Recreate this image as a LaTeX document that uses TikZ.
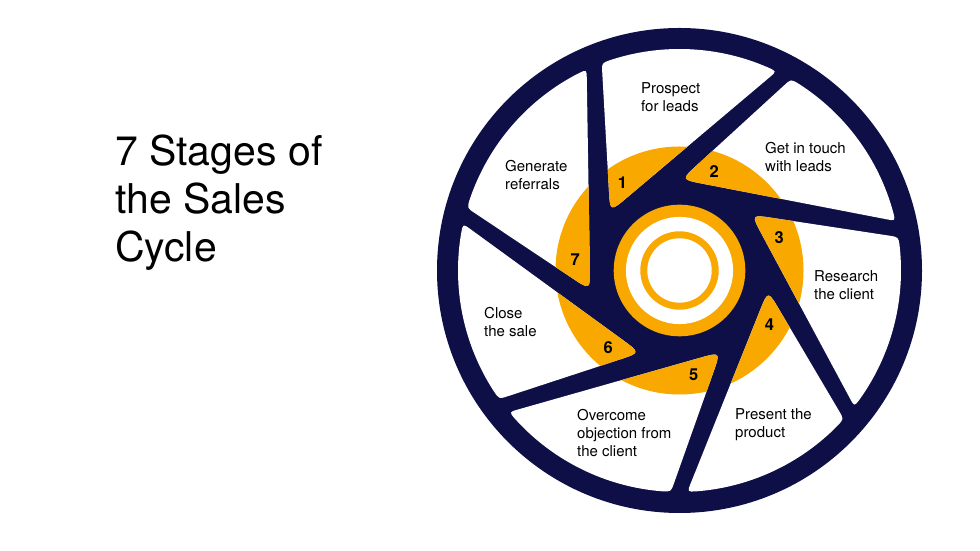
\documentclass[tikz,border=0pt]{standalone}
\usepackage{fontspec}
\setmainfont{TeX Gyre Heros}
\usetikzlibrary{calc}
\definecolor{navy}{RGB}{13,15,70}
\definecolor{amber}{RGB}{249,168,0}

\tikzset{
  stage/.style={anchor=north west,align=left,inner sep=0pt,font=\fontsize{15}{18}\selectfont},
  num/.style={inner sep=0pt,font=\fontsize{16.5}{16.5}\selectfont\bfseries},
  gap/.style={fill=white,path picture={\fill[amber] (hub) circle[radius=124pt];}}
}

\begin{document}
\begin{tikzpicture}
  [x=1pt,y=1pt]
  \useasboundingbox (0,0) rectangle (980,551);

  \node (title) [anchor=north west,align=left,inner sep=0pt,font=\fontsize{41}{48}\selectfont]
    at (115,416.4) {7 Stages of\\the Sales\\Cycle};

  \begin{scope}[shift={(679.5,280.5)}]
  \coordinate (hub) at (0,0);
  \fill[navy] (hub) circle (242.5);

  % one gap between two blades: white outside, amber inside
  \foreach \i/\ra/\rb in {1/0/-50.775,2/-50.775/-101.875,3/-101.875/-152.675,4/-152.675/-202.775,
                          5/-202.775/-255.075,6/-255.075/-306.975,7/-306.975/-360} {
    \coordinate (r1) at (110.56+\ra:221.5);
    \coordinate (r2) at (133.69+\ra:101.64);
    \coordinate (l1) at (114.79+\rb:221.5);
    \coordinate (l2) at (184.15+\rb:89.74);
    \coordinate (t\i) at (intersection of r1--r2 and l1--l2);
    \coordinate (a\i) at ($(t\i)!22pt!(r1)$);
    \coordinate (b\i) at ($(t\i)!22pt!(l1)$);
    \coordinate (p) at ($(r1)!9pt!(t\i)$);
    \coordinate (q) at ($(l1)!9pt!(t\i)$);
    \path[gap] (a\i) -- (p) .. controls (r1) .. (108.2+\ra:221.5)
      arc[start angle=108.2+\ra,end angle=117.15+\rb,radius=221.5]
      .. controls (l1) .. (q) -- (b\i) .. controls (t\i) .. (a\i) -- cycle;
  }

  \fill[amber] (hub) circle (65.8);
  \fill[white] (hub) circle (53.6);
  \fill[amber] (hub) circle (39.2);
  \fill[white] (hub) circle (32.2);

  \foreach \i/\a in {1/122.9,2/70.7,3/18.4,4/-31.1,5/-82.2,6/-132.7,7/173.8}
    \node[num] (n\i) at (\a:105) {\i};
  \end{scope}

  \node (l1) [stage] at (641,468.5) {Prospect\\for leads};
  \node (l2) [stage] at (765,408.8) {Get in touch\\with leads};
  \node (l3) [stage] at (814,280.5) {Research\\the client};
  \node (l4) [stage] at (735,142.2) {Present the\\product};
  \node (l5) [stage] at (577,142.2) {Overcome\\objection from\\the client};
  \node (l6) [stage] at (484,243.5) {Close\\the sale};
  \node (l7) [stage] at (505,390.8) {Generate\\referrals};
\end{tikzpicture}
\end{document}
